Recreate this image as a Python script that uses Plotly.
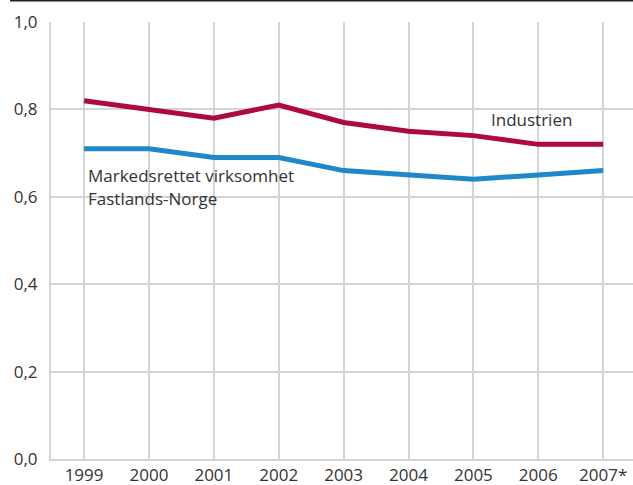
import plotly.graph_objects as go

years = ["1999", "2000", "2001", "2002", "2003", "2004", "2005", "2006", "2007*"]
industrien = [0.82, 0.80, 0.78, 0.81, 0.77, 0.75, 0.74, 0.72, 0.72]
fastland = [0.71, 0.71, 0.69, 0.69, 0.66, 0.65, 0.64, 0.65, 0.66]
y_ticks = [0.0, 0.2, 0.4, 0.6, 0.8, 1.0]
y_ticktext = ["0,0", "0,2", "0,4", "0,6", "0,8", "1,0"]

RED = "#AE0A3B"
BLUE = "#1E88CA"
GRID = "#D4D4D4"
TXT = "#333333"
FONT = "Open Sans"
FS = 17

fig = go.Figure()
fig.add_trace(go.Scatter(x=years, y=fastland, mode="lines",
                         line=dict(color=BLUE, width=5), hoverinfo="skip"))
fig.add_trace(go.Scatter(x=years, y=industrien, mode="lines",
                         line=dict(color=RED, width=5), hoverinfo="skip"))

fig.update_layout(
    width=633, height=485,
    margin=dict(l=51, r=0, t=22, b=26),
    paper_bgcolor="white", plot_bgcolor="white",
    showlegend=False,
    font=dict(family=FONT, size=FS, color=TXT),
    xaxis=dict(
        type="category", range=[-0.51, 8.46],
        showgrid=True, gridcolor=GRID, gridwidth=2,
        showline=True, linecolor=GRID, linewidth=2,
        ticks="", tickfont=dict(family=FONT, size=FS, color=TXT),
        fixedrange=True,
    ),
    yaxis=dict(
        range=[0, 1.0], tickvals=y_ticks, ticktext=y_ticktext,
        showgrid=True, gridcolor=GRID, gridwidth=2,
        showline=True, linecolor=GRID, linewidth=2,
        zeroline=False, ticks="", ticklabelstandoff=8,
        tickfont=dict(family=FONT, size=FS, color=TXT),
        fixedrange=True,
    ),
    shapes=[dict(type="line", xref="paper", yref="paper",
                 x0=-0.0704, x1=1.0, y0=1.049, y1=1.049,
                 line=dict(color="#222222", width=2))],
    annotations=[
        dict(x=6.24, y=0.776, xref="x", yref="y", text="Industrien",
             showarrow=False, xanchor="left", yanchor="middle",
             font=dict(family=FONT, size=FS, color=TXT)),
        dict(x=0.03, y=0.648, xref="x", yref="y", text="Markedsrettet virksomhet",
             showarrow=False, xanchor="left", yanchor="middle",
             font=dict(family=FONT, size=FS, color=TXT)),
        dict(x=0.03, y=0.595, xref="x", yref="y", text="Fastlands-Norge",
             showarrow=False, xanchor="left", yanchor="middle",
             font=dict(family=FONT, size=FS, color=TXT)),
    ],
)

fig.write_html("out.html", config={"displayModeBar": False},
               post_script="document.body.style.margin='0px';")
